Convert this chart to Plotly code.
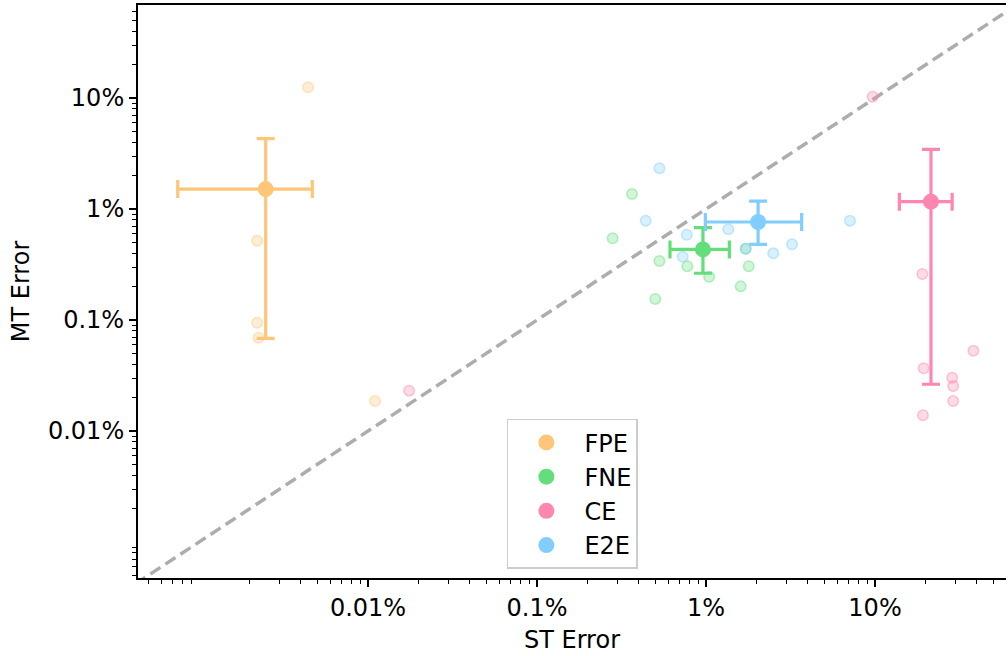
import plotly.graph_objects as go

# ---- data (fractions, plotted as percent labels on log axes) ----
groups = ["FPE", "FNE", "CE", "E2E"]
colors = {"FPE": "#ffc679", "FNE": "#63de7a", "CE": "#ff86b1", "E2E": "#82cdff"}

fpe_st = [4.42e-5, 2.21e-5, 2.21e-5, 2.25e-5, 1.10e-4]
fpe_mt = [0.1248, 5.18e-3, 9.46e-4, 6.93e-4, 1.86e-4]

fne_st = [3.65e-3, 2.80e-3, 5.30e-3, 7.75e-3, 1.043e-2, 1.79e-2, 1.603e-2, 5.01e-3, 1.717e-2]
fne_mt = [1.365e-2, 5.45e-3, 3.40e-3, 3.05e-3, 2.45e-3, 3.05e-3, 2.01e-3, 1.55e-3, 4.38e-3]

ce_st = [1.75e-4, 0.0968, 0.1906, 0.382, 0.194, 0.286, 0.290, 0.290, 0.192]
ce_mt = [2.31e-4, 0.1027, 2.60e-3, 5.28e-4, 3.67e-4, 3.02e-4, 2.54e-4, 1.86e-4, 1.39e-4]

e2e_st = [5.30e-3, 4.40e-3, 7.69e-3, 1.355e-2, 7.28e-3, 1.717e-2, 2.50e-2, 3.23e-2, 7.11e-2]
e2e_mt = [2.328e-2, 7.85e-3, 5.86e-3, 6.56e-3, 3.72e-3, 4.38e-3, 3.99e-3, 4.81e-3, 7.85e-3]

# summary points with interval bounds
center_st = [2.48e-5, 9.59e-3, 0.2143, 2.033e-2]
center_mt = [1.513e-2, 4.33e-3, 1.164e-2, 7.64e-3]
st_low = [7.48e-6, 6.12e-3, 0.1393, 9.91e-3]
st_high = [4.68e-5, 1.374e-2, 0.286, 3.68e-2]
mt_low = [6.84e-4, 2.64e-3, 2.64e-4, 4.81e-3]
mt_high = [4.30e-2, 6.79e-3, 3.45e-2, 1.18e-2]

diag = [1e-6, 1.0]

tick_vals = [1e-4, 1e-3, 1e-2, 1e-1]
tick_text = ["0.01%", "0.1%", "1%", "10%"]

points = {"FPE": (fpe_st, fpe_mt), "FNE": (fne_st, fne_mt),
          "CE": (ce_st, ce_mt), "E2E": (e2e_st, e2e_mt)}

def rgba(hexc, a):
    h = hexc.lstrip("#")
    r, g, b = int(h[0:2], 16), int(h[2:4], 16), int(h[4:6], 16)
    return f"rgba({r},{g},{b},{a})"

FONT = "DejaVu Sans"
FS = 24

fig = go.Figure()

fig.add_trace(go.Scatter(x=diag, y=diag, mode="lines", showlegend=False,
                         line=dict(color="#adadad", width=3.5, dash="12px,6px"),
                         hoverinfo="skip"))

for g in groups:
    xs, ys = points[g]
    fig.add_trace(go.Scatter(
        x=xs, y=ys, mode="markers", showlegend=False,
        marker=dict(size=10.5, color=rgba(colors[g], 0.3),
                    line=dict(color=rgba(colors[g], 0.45), width=1.5))))

for i, g in enumerate(groups):
    c = colors[g]
    fig.add_trace(go.Scatter(
        x=[center_st[i]], y=[center_mt[i]], mode="markers", name=g,
        marker=dict(size=16, color=c),
        error_x=dict(type="data", symmetric=False,
                     array=[st_high[i] - center_st[i]],
                     arrayminus=[center_st[i] - st_low[i]],
                     color=c, thickness=3.2, width=9),
        error_y=dict(type="data", symmetric=False,
                     array=[mt_high[i] - center_mt[i]],
                     arrayminus=[center_mt[i] - mt_low[i]],
                     color=c, thickness=3.2, width=9)))

minor_vals = [m * 10.0 ** k for k in range(-7, 1) for m in range(2, 10)]

axis_common = dict(
    type="log", tickmode="array", tickvals=tick_vals, ticktext=tick_text,
    ticks="outside", ticklen=7, tickwidth=1.5, tickcolor="black",
    showline=True, linecolor="black", linewidth=2, showgrid=False, zeroline=False,
    tickfont=dict(family=FONT, size=FS, color="black"),
    minor=dict(tickmode="array", tickvals=minor_vals, ticks="outside",
               ticklen=4, tickwidth=1.2, tickcolor="black", showgrid=False),
)

fig.update_layout(
    width=1008, height=656,
    margin=dict(l=138, r=2, t=5, b=78),
    paper_bgcolor="white", plot_bgcolor="white",
    font=dict(family=FONT, size=FS, color="black"),
    xaxis=dict(range=[-5.361, -0.225], mirror=True,
               title=dict(text="ST Error", standoff=10,
                          font=dict(family=FONT, size=FS)),
               **axis_common),
    yaxis=dict(range=[-5.324, -0.162],
               title=dict(text="MT Error", standoff=12,
                          font=dict(family=FONT, size=FS)),
               **axis_common),
    legend=dict(x=0.425, y=0.016, xanchor="left", yanchor="bottom",
                bgcolor="white", bordercolor="#cccccc", borderwidth=1.5,
                font=dict(family=FONT, size=FS),
                itemwidth=66),
    showlegend=True,
)

fig.write_html("out.html")
